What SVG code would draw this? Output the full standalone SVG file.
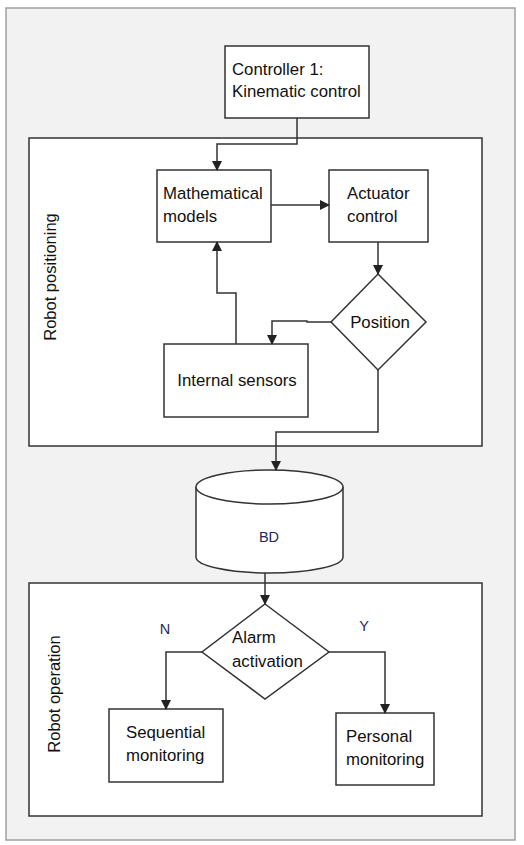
<svg xmlns="http://www.w3.org/2000/svg" width="524" height="845" viewBox="0 0 524 845">
<style>
.box{fill:#fff;stroke:#333;stroke-width:1.5}
.t{font-family:"Liberation Sans",Arial,sans-serif;font-size:16.8px;fill:#111}
.lbl{font-family:"Liberation Sans",Arial,sans-serif;font-size:16.5px;fill:#111}
.small{font-family:"Liberation Sans",Arial,sans-serif;font-size:14.5px;fill:#1f2a5a}
.c{fill:none;stroke:#333;stroke-width:1.5}
</style>
<defs>
<marker id="ah" markerWidth="10" markerHeight="10" refX="9" refY="5" orient="auto" markerUnits="userSpaceOnUse">
<path d="M0,0 L10,5 L0,10 z" fill="#222"/>
</marker>
</defs>
<rect x="0" y="0" width="524" height="845" fill="#fff"/>
<rect id="outer" x="6" y="8" width="509" height="832" fill="#f2f2f2" stroke="#a0a0a0" stroke-width="1.5"/>
<g id="robot-positioning">
<rect x="29" y="138" width="453" height="308" class="box"/>
<text class="lbl" transform="translate(56,277) rotate(-90)" text-anchor="middle">Robot positioning</text>
</g>
<g id="robot-operation">
<rect x="29" y="583" width="453" height="233" class="box"/>
<text class="lbl" transform="translate(60,694) rotate(-90)" text-anchor="middle">Robot operation</text>
</g>
<g id="controller">
<rect x="225" y="46" width="144" height="72" class="box"/>
<text class="t" x="232" y="75">Controller 1:</text>
<text class="t" x="232" y="97">Kinematic control</text>
</g>
<g id="math">
<rect x="157" y="170" width="114" height="72" class="box"/>
<text class="t" x="163" y="199">Mathematical</text>
<text class="t" x="163" y="222">models</text>
</g>
<g id="actuator">
<rect x="329" y="170" width="99" height="72" class="box"/>
<text class="t" x="347" y="199">Actuator</text>
<text class="t" x="347" y="222">control</text>
</g>
<g id="position">
<polygon points="378,274 426,322 378,370 331,322" class="box"/>
<text class="t" x="380" y="328" text-anchor="middle">Position</text>
</g>
<g id="sensors">
<rect x="164" y="344" width="144" height="73" class="box"/>
<text class="t" x="237" y="386" text-anchor="middle">Internal sensors</text>
</g>
<g id="bd">
<path d="M196,487 L196,557 A73.5,16 0 0 0 343,557 L343,487" class="box"/>
<ellipse cx="269.5" cy="487" rx="73.5" ry="17" class="box"/>
<text class="small" x="269" y="542" text-anchor="middle">BD</text>
</g>
<g id="alarm">
<polygon points="265,604 329,652 265,699 202,652" class="box"/>
<text class="t" x="232" y="643">Alarm</text>
<text class="t" x="232" y="667">activation</text>
</g>
<g id="sequential">
<rect x="109" y="709" width="114" height="73" class="box"/>
<text class="t" x="126" y="738">Sequential</text>
<text class="t" x="126" y="761">monitoring</text>
</g>
<g id="personal">
<rect x="336" y="713" width="98" height="72" class="box"/>
<text class="t" x="346" y="742">Personal</text>
<text class="t" x="346" y="765">monitoring</text>
</g>
<g id="connectors">
<polyline points="297,118 297,144 217,144 217,170" class="c" marker-end="url(#ah)"/>
<polyline points="271,205 329,205" class="c" marker-end="url(#ah)"/>
<polyline points="378,242 378,274" class="c" marker-end="url(#ah)"/>
<polyline points="331,322 307,322 307,321 272,321 272,344" class="c" marker-end="url(#ah)"/>
<polyline points="236,344 236,293 217,293 217,242" class="c" marker-end="url(#ah)"/>
<polyline points="378,370 378,432 276,432 276,470" class="c" marker-end="url(#ah)"/>
<polyline points="265,573 265,604" class="c" marker-end="url(#ah)"/>
<polyline points="202,652 166,652 166,709" class="c" marker-end="url(#ah)"/>
<polyline points="329,652 385,652 385,713" class="c" marker-end="url(#ah)"/>
<text class="small" x="165" y="634" text-anchor="middle">N</text>
<text class="small" x="364" y="631" text-anchor="middle">Y</text>
</g>
</svg>
